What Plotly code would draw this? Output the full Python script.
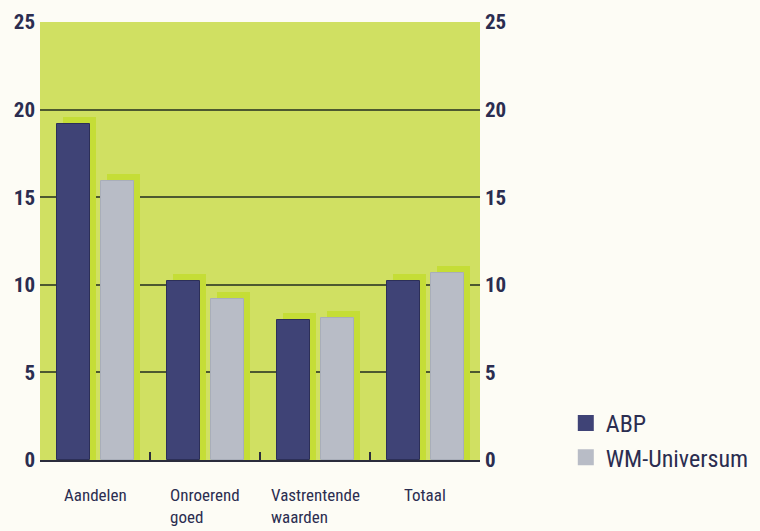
import plotly.graph_objects as go

# Rendement per beleggingscategorie (%)
categories = ["Aandelen", "Onroerend goed", "Vastrentende waarden", "Totaal"]
category_labels = ["Aandelen", "Onroerend<br>goed", "Vastrentende<br>waarden", "Totaal"]
abp = [19.2, 10.2, 8.0, 10.2]
wm_universum = [15.9, 9.2, 8.1, 10.7]
y_ticks = [0, 5, 10, 15, 20, 25]

# Style
FONT = "Liberation Sans Narrow, Arial Narrow, Roboto Condensed, sans-serif"
TEXT = "#2b2d50"
NAVY = "#3f4376"
GREY = "#b8bcc6"
PLOT_BG = "#d0e062"
SHADOW = "#c5dd36"
PAGE_BG = "#fdfcf5"
GRID = "#4d5930"
BAR_W = 0.30
SHADOW_DX = 0.055     # shadow shift to the right (category units)
SHADOW_LIFT = 0.4     # shadow shift upward (value units)

fig = go.Figure()

# drop shadows behind the bars (left axis)
for vals, off in ((abp, -0.35), (wm_universum, 0.05)):
    fig.add_trace(go.Bar(
        x=categories, y=[v + SHADOW_LIFT for v in vals],
        offset=off + SHADOW_DX, width=BAR_W,
        marker=dict(color=SHADOW, line=dict(width=0)),
        showlegend=False, hoverinfo="skip", yaxis="y",
    ))

# the bars themselves (right axis, drawn on top)
fig.add_trace(go.Bar(
    x=categories, y=abp, offset=-0.35, width=BAR_W, name="ABP",
    marker=dict(color=NAVY, line=dict(color="#2c2f58", width=1)),
    showlegend=False, yaxis="y2",
))
fig.add_trace(go.Bar(
    x=categories, y=wm_universum, offset=0.05, width=BAR_W, name="WM-Universum",
    marker=dict(color=GREY, line=dict(color="#a9aeb9", width=1)),
    showlegend=False, yaxis="y2",
))

# legend entries with larger square swatches
for name, col in (("ABP", NAVY), ("WM-Universum", GREY)):
    fig.add_trace(go.Scatter(
        x=[None], y=[None], mode="markers", name=name,
        marker=dict(symbol="square", size=16, color=col),
        yaxis="y2",
    ))

# category labels: block centred under the group, lines left-aligned
for cat, lab in zip(categories, category_labels):
    fig.add_annotation(
        x=cat, y=0, xref="x", yref="y", text=lab, showarrow=False,
        xanchor="center", yanchor="top", align="left", yshift=-23,
        font=dict(family=FONT, size=17, color=TEXT),
    )

axis_font = dict(family=FONT, size=21, color=TEXT, weight="bold")

fig.update_layout(
    width=760, height=531,
    margin=dict(l=40, r=280, t=22, b=71, autoexpand=False),
    paper_bgcolor=PAGE_BG,
    plot_bgcolor=PLOT_BG,
    barmode="overlay",
    bargap=0,
    font=dict(family=FONT, color=TEXT),
    xaxis=dict(
        type="category", showticklabels=False,
        ticks="inside", tickson="boundaries", ticklen=8, tickwidth=2,
        tickcolor="#2a2c3c", showline=True, linecolor="#2a2c3c", linewidth=2,
        showgrid=False, zeroline=False, fixedrange=True,
    ),
    yaxis=dict(
        range=[0, 25], tickvals=y_ticks, ticks="", showline=False,
        showgrid=True, gridcolor=GRID, gridwidth=1.6, zeroline=False,
        tickfont=axis_font, ticklabelstandoff=4,
    ),
    yaxis2=dict(
        range=[0, 25], tickvals=y_ticks, overlaying="y", side="right",
        ticks="", showline=False, showgrid=False, zeroline=False,
        tickfont=axis_font, ticklabelstandoff=4,
    ),
    legend=dict(
        x=1.195, y=0.135, xanchor="left", yanchor="top",
        bgcolor="rgba(0,0,0,0)", borderwidth=0,
        font=dict(family=FONT, size=24, color=TEXT),
        itemsizing="trace", tracegroupgap=0,
    ),
)

fig.write_html("out.html")
